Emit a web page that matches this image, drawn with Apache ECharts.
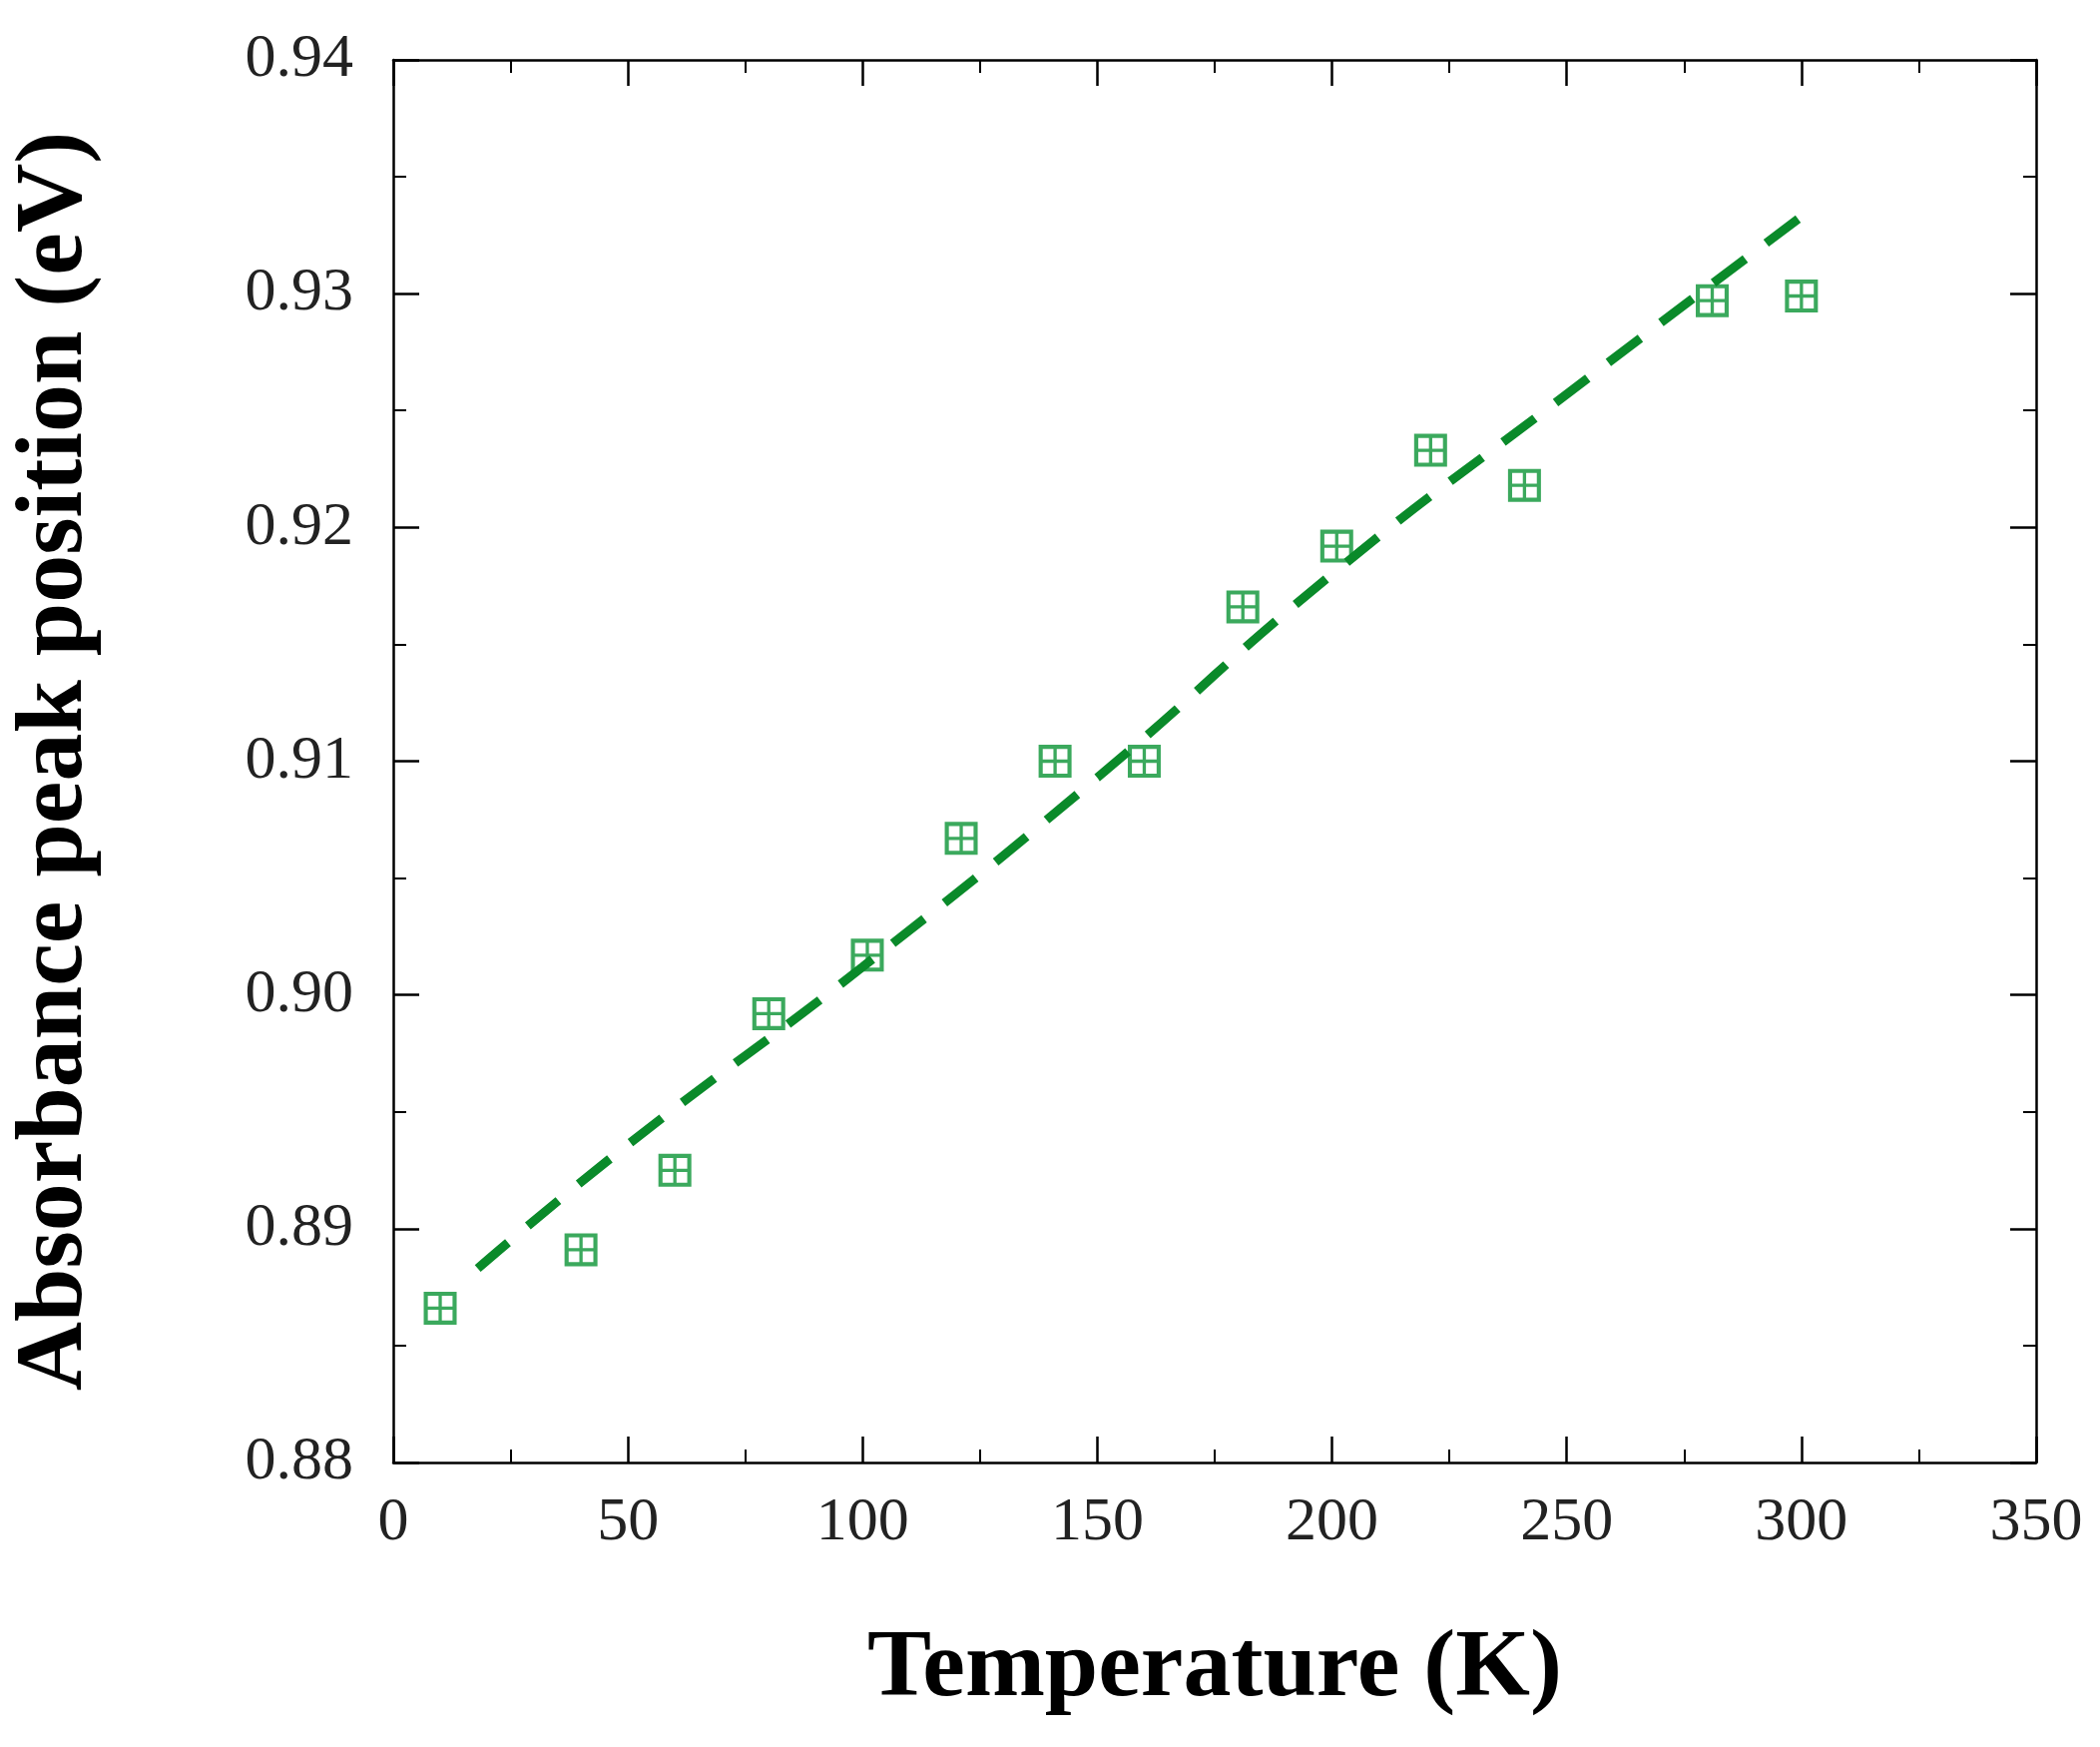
<!DOCTYPE html>
<html><head><meta charset="utf-8">
<script src="https://cdn.jsdelivr.net/npm/echarts@6/dist/echarts.min.js"></script>
<style>html,body{margin:0;background:#fff}#c{width:2104px;height:1750px}</style>
</head><body><div id="c"></div>
<script>
const expT = [10,40,60,80,101,121,141,160,181,201,221,241,281,300];
const expE = [0.8866,0.8891,0.8925,0.8992,0.9017,0.9067,0.9100,0.9100,0.9166,0.9192,0.9233,0.9218,0.9297,0.9299];
const fitT = [18,50,100,150,200,250,300];
const fitE = [0.8883,0.8936,0.9012,0.9093,0.9180,0.9257,0.9333];
const green = '#0a9434';
const sym = 'path://M0,0H20V20H0Z M2.5,2.5V9H9V2.5Z M11,2.5V9H17.5V2.5Z M2.5,11V17.5H9V11Z M11,11V17.5H17.5V11Z';
const font = 'Liberation Serif';
function ax(extra){
  return Object.assign({
    show:true,
    axisLine:{show:true,onZero:false,lineStyle:{color:'#000',width:2.5}},
    axisTick:{show:true,inside:true,length:26,lineStyle:{color:'#000',width:2.5}},
    minorTick:{show:true,splitNumber:2,length:13,lineStyle:{color:'#000',width:2}},
    splitLine:{show:false}
  },extra);
}
const chart = echarts.init(document.getElementById('c'));
chart.setOption({
  animation:false,
  grid:{left:376,right:64,top:60,bottom:285},
  xAxis:[ax({type:'value',min:0,max:350,interval:50,
    name:'Temperature (K)',nameLocation:'middle',nameGap:160,
    nameTextStyle:{fontFamily:font,fontWeight:'bold',fontSize:96,color:'#000'},
    axisLabel:{fontFamily:font,fontSize:62,color:'#222',margin:30}}),
    ax({type:'value',min:0,max:350,interval:50,position:'top',axisLabel:{show:false}})],
  yAxis:[ax({type:'value',min:0.88,max:0.94,interval:0.01,
    name:'Absorbance peak position (eV)',nameLocation:'middle',nameGap:290,
    nameTextStyle:{fontFamily:font,fontWeight:'bold',fontSize:96,color:'#000'},
    axisLabel:{fontFamily:font,fontSize:62,color:'#222',margin:40,formatter:v=>v.toFixed(2)}}),
    ax({type:'value',min:0.88,max:0.94,interval:0.01,position:'right',axisLabel:{show:false}})],
  series:[
    {type:'line',data:fitT.map((t,i)=>[t,fitE[i]]),smooth:true,symbol:'none',
     lineStyle:{color:'#0a8a2a',width:9,type:[40,26]}},
    {type:'scatter',data:expT.map((t,i)=>[t,expE[i]]),symbol:sym,symbolSize:33,
     itemStyle:{color:green}},
    {type:'scatter',xAxisIndex:1,yAxisIndex:1,data:[]}
  ]
});
</script></body></html>
